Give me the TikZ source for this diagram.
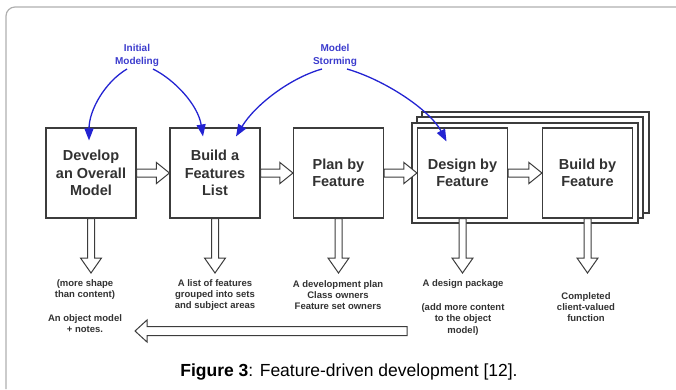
\documentclass[tikz,border=0pt]{standalone}
\usepackage{fontspec}
\setmainfont{Liberation Sans}
\usetikzlibrary{arrows.meta,calc}

\definecolor{edge}{RGB}{60,60,60}
\definecolor{ink}{RGB}{50,50,50}
\definecolor{modelblue}{RGB}{35,35,210}
\definecolor{labelblue}{RGB}{60,60,205}
\definecolor{framegray}{RGB}{175,175,175}

% hollow block arrows: shaft from #1 to tip #2
\newcommand\hblock[2]{\draw[blk] let \p1=(#1), \p2=(#2) in
  (\x1,\y1+4) -- (\x2-13,\y1+4) -- (\x2-13,\y1+10.5) -- (\x2,\y1)
  -- (\x2-13,\y1-10.5) -- (\x2-13,\y1-4) -- (\x1,\y1-4) -- cycle;}
\newcommand\lblock[2]{\draw[blk] let \p1=(#1), \p2=(#2) in
  (\x1,\y1+4.5) -- (\x2+12,\y1+4.5) -- (\x2+12,\y1+11) -- (\x2,\y1)
  -- (\x2+12,\y1-11) -- (\x2+12,\y1-4.5) -- (\x1,\y1-4.5) -- cycle;}
\newcommand\vblock[2]{\draw[blk] let \p1=(#1), \p2=(#2) in
  (\x1-3.5,\y1) -- (\x1-3.5,\y2+15) -- (\x1-10.5,\y2+15) -- (\x1,\y2)
  -- (\x1+10.5,\y2+15) -- (\x1+3.5,\y2+15) -- (\x1+3.5,\y1) -- cycle;}

\tikzset{
  proc/.style={draw=edge, line width=1.1pt, fill=white, minimum width=90pt,
    minimum height=90pt, inner sep=0pt, align=center, text=ink,
    font=\fontsize{14.5}{17.5}\selectfont\bfseries},
  stackframe/.style={draw=edge, line width=1.1pt, fill=white, inner sep=0pt},
  blk/.style={draw=edge, line width=1pt, fill=white, line join=miter},
  outtext/.style={align=center, text=ink, inner sep=0pt,
    font=\fontsize{9.5}{11.3}\selectfont\bfseries},
  modellabel/.style={align=center, text=labelblue, inner sep=0pt,
    font=\fontsize{10}{12.5}\selectfont\bfseries},
  model/.style={draw=modelblue, line width=1.3pt,
    -{Triangle[length=12pt,width=9pt]}},
}

\begin{document}
\begin{tikzpicture}[x=1pt,y=-1pt]
\useasboundingbox (0,0) rectangle (676,389);

% outer rounded frame
\draw[framegray, line width=1.2pt, rounded corners=9pt] (676,7) -- (6,7) -- (6,389);

% stacked iteration frames
\node[stackframe, minimum width=227pt, minimum height=101pt] (fC) at (535.5,162.5) {};
\node[stackframe, minimum width=226pt, minimum height=101pt] (fB) at (530,167.5) {};
\node[stackframe, minimum width=226pt, minimum height=100pt] (fA) at (525,173) {};

% process boxes
\node[proc] (b1) at (91,173) {Develop\\an Overall\\Model};
\node[proc] (b2) at (215,173) {Build a\\Features\\List};
\node[proc] (b3) at (338.5,173) {Plan by\\Feature};
\node[proc] (b4) at (462.5,173) {Design by\\Feature};
\node[proc] (b5) at (587.5,173) {Build by\\Feature};

% flow between the boxes
\hblock{b1.east}{b2.west}
\hblock{b2.east}{b3.west}
\hblock{b3.east}{b4.west}
\hblock{b4.east}{b5.west}

% outputs of each step
\coordinate (o1) at (91,273);
\coordinate (o2) at (215,273);
\coordinate (o3) at (338.5,273);
\coordinate (o4) at (462.5,273);
\coordinate (o5) at (587.5,273);
\vblock{b1.south}{o1}
\vblock{b2.south}{o2}
\vblock{b3.south}{o3}
\vblock{b4.south}{o4}
\vblock{b5.south}{o5}

\node[outtext] (t1) at (85,289.5) {(more shape\\than content)};
\node[outtext] (t1b) at (85,323.5) {An object model\\+ notes.};
\node[outtext] (t2) at (215,295) {A list of features\\grouped into sets\\and subject areas};
\node[outtext] (t3) at (338,295) {A development plan\\Class owners\\Feature set owners};
\node[outtext] (t4) at (463,284) {A design package};
\node[outtext] (t4b) at (463,319.5) {(add more content\\to the object\\model)};
\node[outtext] (t5) at (586,307) {Completed\\client-valued\\function};

% feedback into the object model
\coordinate (fbstart) at (407,331);
\coordinate (fbend) at (135,331);
\lblock{fbstart}{fbend}

% modeling sessions
\node[modellabel] (lab1) at (137,55.5) {Initial\\Modeling};
\node[modellabel] (lab2) at (335,55.5) {Model\\Storming};
\coordinate (m1) at (127,69);
\coordinate (m2) at (153,69);
\coordinate (m3) at (322,69);
\coordinate (m4) at (347,69);
\draw[model] (m1) .. controls (105,82) and (89,110) .. ($(b1.north)+(-2,13)$);
\draw[model] (m2) .. controls (175,80) and (198,105) .. ($(b2.north)+(-12,9)$);
\draw[model] (m3) .. controls (290,78) and (255,105) .. ($(b2.north)+(21,9)$);
\draw[model] (m4) .. controls (385,80) and (430,110) .. ($(b4.north)+(-16,14)$);

% caption
\node[text=black, inner sep=0pt, font=\fontsize{17.5}{20}\selectfont] (cap) at (349,372)
  {\textbf{Figure 3}: Feature-driven development [12].};
\end{tikzpicture}
\end{document}
